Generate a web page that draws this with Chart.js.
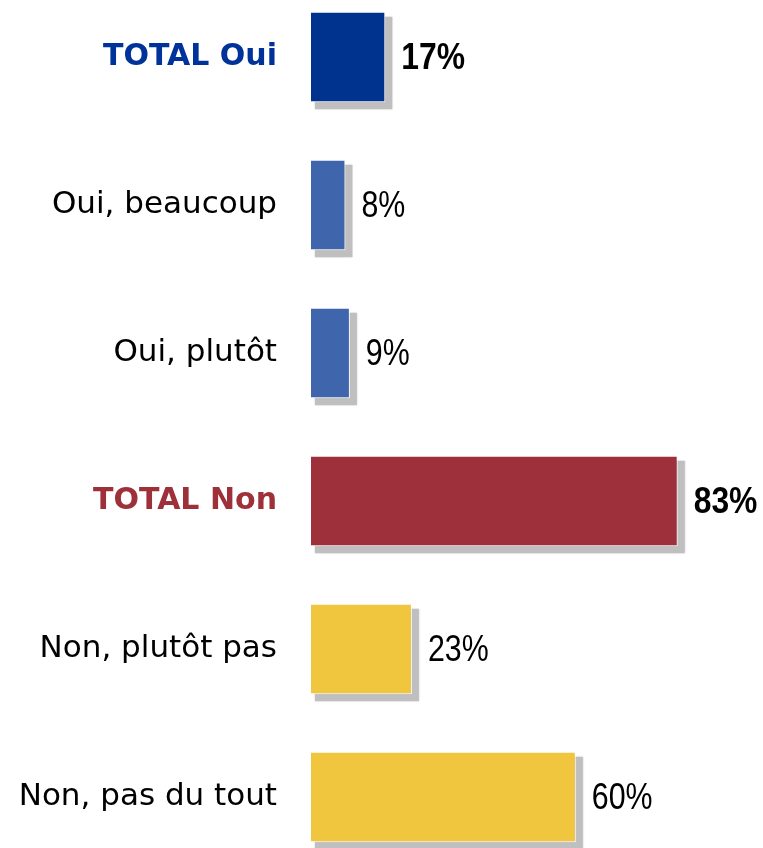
<!DOCTYPE html>
<html>
<head>
<meta charset="utf-8">
<script src="https://cdn.jsdelivr.net/npm/chart.js@4.4.1/dist/chart.umd.min.js"></script>
<style>
  html, body { margin: 0; padding: 0; background: #fff; }
  #wrap { width: 763px; height: 848px; position: relative; }
</style>
</head>
<body>
<div id="wrap"><canvas id="chart"></canvas></div>
<script>
const CATEGORIES = ['TOTAL Oui', 'Oui, beaucoup', 'Oui, plutôt', 'TOTAL Non', 'Non, plutôt pas', 'Non, pas du tout'];
const VALUES     = [17, 8, 9, 83, 23, 60];
const BAR_COLORS = ['#00338d', '#3f66ad', '#3f66ad', '#9d303b', '#f0c63f', '#f0c63f'];
const LABEL_COLORS = ['#003399', '#000000', '#000000', '#9e3039', '#000000', '#000000'];
const IS_TOTAL   = [true, false, false, true, false, false];

const FONT = "'DejaVu Sans', sans-serif";
const VALUE_FONT = "'Liberation Sans', sans-serif";

// gray drop shadow behind each bar, taken from the bar elements
const shadowPlugin = {
    id: 'barShadow',
    beforeDatasetsDraw(chart) {
        const ctx = chart.ctx;
        const meta = chart.getDatasetMeta(0);
        ctx.save();
        ctx.fillStyle = '#bfbfbf';
        ctx.shadowColor = '#cccccc';
        ctx.shadowBlur = 2;
        meta.data.forEach(bar => {
            const top = bar.y - bar.height / 2;
            ctx.fillRect(bar.base + 5, top + 5, bar.x - bar.base + 2, bar.height + 2);
        });
        ctx.restore();
    }
};

// value labels to the right of each bar (slightly condensed, like the original)
const valuePlugin = {
    id: 'valueLabels',
    afterDatasetsDraw(chart) {
        const ctx = chart.ctx;
        const meta = chart.getDatasetMeta(0);
        ctx.textBaseline = 'middle';
        ctx.textAlign = 'left';
        ctx.fillStyle = '#000';
        meta.data.forEach((bar, i) => {
            ctx.save();
            ctx.font = (IS_TOTAL[i] ? 'bold ' : '') + '37px ' + VALUE_FONT;
            ctx.translate(bar.x + 16, bar.y + 2);
            ctx.scale(IS_TOTAL[i] ? 0.86 : 0.82, 1);
            ctx.fillText(VALUES[i] + '%', 0, 0);
            ctx.restore();
        });
    }
};

new Chart(document.getElementById('chart'), {
    type: 'bar',
    data: {
        labels: CATEGORIES,
        datasets: [{
            data: VALUES,
            backgroundColor: BAR_COLORS,
            borderColor: '#ffffff',
            borderWidth: 1,
            borderSkipped: false,
            barPercentage: 0.61,
            categoryPercentage: 1,
            clip: false,
        }]
    },
    options: {
        indexAxis: 'y',
        responsive: true,
        maintainAspectRatio: false,
        animation: false,
        layout: { padding: { top: 57, bottom: 51, left: 0, right: 10 } },
        plugins: {
            legend: { display: false },
            tooltip: { enabled: false },
        },
        scales: {
            x: {
                display: false,
                min: 0,
                max: 100,
            },
            y: {
                offset: false,
                grid: { display: false, drawTicks: false },
                border: { display: false },
                afterFit: s => { s.width = 310; },
                ticks: {
                    padding: 33,
                    color: ctx => LABEL_COLORS[ctx.index],
                    font: ctx => ({
                        family: FONT,
                        size: IS_TOTAL[ctx.index] ? 30 : 31,
                        weight: IS_TOTAL[ctx.index] ? 'bold' : 'normal',
                    }),
                }
            }
        }
    },
    plugins: [shadowPlugin, valuePlugin]
});
</script>
</body>
</html>
